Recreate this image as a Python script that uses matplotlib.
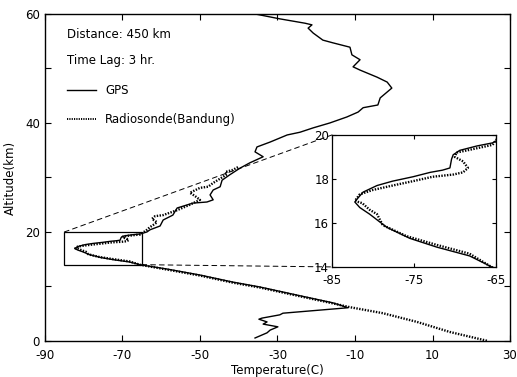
import matplotlib
matplotlib.use("Agg")
import matplotlib.pyplot as plt
from matplotlib.patches import Rectangle, ConnectionPatch

plt.rcParams.update({
    "font.family": "DejaVu Sans",
    "font.size": 8,
    "axes.unicode_minus": False,
})

# ---------------------------------------------------------------- data
# GPS profile (temperature C, altitude km), top to bottom
gps_t = [-35.8, -29.4, -22.9, -21.1, -22.1, -20.8, -18.3, -15.7, -11.3, -10.8,
         -8.7, -10.5, -8.7, -4.3, -1.7, -0.5, -3.5, -4.1, -7.9, -9.2,
         -12.1, -16.5, -20.8, -24.2, -27.5, -31.9, -35.3, -35.8, -33.7, -37.1,
         -39.7, -42.3, -44.3, -44.8, -46.6, -47.4, -46.6, -48.2, -51.8, -55.9,
         -57.0, -59.5, -60.3, -62.9, -63.7,
         -65.4, -67.3, -69.4, -70.2, -70.4, -70.6, -71.5, -73.0, -75.1, -77.6,
         -79.5, -81.2, -81.9, -82.2, -81.6, -80.4, -78.3, -75.5, -72.2, -68.2,
         -65.5, -64.7, -58.5, -50.0, -41.5, -34.5, -24.2, -15.7, -11.8, -28.6,
         -29.4, -34.0, -34.8, -32.7, -33.7, -29.9, -31.9, -32.7, -35.8]
gps_z = [60.0, 59.1, 58.3, 58.0, 57.4, 56.5, 55.2, 54.7, 53.9, 52.5,
         51.6, 50.3, 49.7, 48.4, 47.5, 46.4, 44.6, 43.3, 42.8, 42.0,
         41.1, 40.0, 39.1, 38.3, 37.8, 36.5, 35.6, 34.7, 33.8, 32.7,
         31.7, 30.5, 29.5, 28.3, 27.7, 26.8, 25.9, 25.5, 25.3, 24.4,
         23.1, 22.2, 21.1, 20.4, 20.0,
         19.64, 19.5, 19.3, 19.1, 18.9, 18.5, 18.4, 18.3, 18.1, 17.9,
         17.7, 17.4, 17.1, 16.95, 16.7, 16.4, 15.8, 15.3, 14.9, 14.5,
         14.0, 13.9, 13.2, 12.1, 10.8, 9.9, 8.3, 7.0, 6.1, 5.1,
         4.8, 4.2, 4.0, 3.5, 3.1, 2.6, 2.0, 1.5, 0.55]

# Radiosonde (Bandung) profile
rs_t = [-40.2, -41.5, -43.5, -43.0, -44.1, -46.6, -47.9, -50.0, -52.6, -51.3,
        -50.0, -52.6, -55.9, -59.5, -61.6, -62.4, -61.1, -61.6, -62.9, -63.7,
        -65.4, -68.5, -69.8, -70.0, -69.0, -68.4, -69.0, -70.2, -72.7, -75.1,
        -77.6, -80.0, -81.6, -82.2, -81.3, -80.4, -79.5, -78.8, -75.9, -72.2,
        -68.2, -65.4, -58.5, -50.0, -41.5, -34.5, -24.2, -15.7, -11.3, -2.8,
        6.0, 14.5, 24.3]
rs_z = [31.9, 31.4, 31.0, 30.6, 30.1, 29.0, 28.3, 28.1, 27.2, 26.6,
        25.9, 25.0, 24.0, 23.1, 22.9, 22.4, 21.8, 21.5, 20.9, 20.4,
        19.55, 19.3, 19.2, 19.0, 18.8, 18.5, 18.3, 18.2, 18.1, 17.9,
        17.7, 17.5, 17.3, 17.0, 16.9, 16.6, 16.4, 15.9, 15.4, 15.0,
        14.6, 13.97, 13.1, 12.0, 10.7, 9.8, 8.2, 6.9, 6.2, 5.1,
        3.5, 1.65, 0.0]

x_ticks = [-90, -70, -50, -30, -10, 10, 30]
y_ticks = [0, 10, 20, 30, 40, 50, 60]
y_labels = ["0", "", "20", "", "40", "", "60"]
in_x_ticks = [-85, -75, -65]
in_y_ticks = [14, 16, 18, 20]

# ---------------------------------------------------------------- figure
fig = plt.figure(figsize=(5.17, 3.77), dpi=100)
ax = fig.add_axes([0.087, 0.0955, 0.8995, 0.8675])

ax.plot(gps_t, gps_z, color="black", lw=1.0)
ax.plot(rs_t, rs_z, color="black", lw=1.7, ls=(0, (0.6, 0.6)))
ax.set_xlim(-90, 30)
ax.set_ylim(0, 60)
ax.set_xticks(x_ticks)
ax.set_yticks(y_ticks)
ax.set_yticklabels(y_labels)
ax.tick_params(direction="in", length=4, width=0.8, top=True, right=True,
               labelsize=8.5)
ax.tick_params(axis="x", pad=6)
for s in ax.spines.values():
    s.set_linewidth(1.0)
ax.set_xlabel("Temperature(C)", fontsize=8.5, labelpad=1)
ax.set_ylabel("Altitude(km)", fontsize=8.5, labelpad=6)

# text and legend
ax.text(-84.3, 56.2, "Distance: 450 km", fontsize=8.5, va="center")
ax.text(-84.3, 51.4, "Time Lag: 3 hr.", fontsize=8.5, va="center")
ax.plot([-84.3, -76.8], [46.0, 46.0], color="black", lw=1.0)
ax.text(-74.5, 46.0, "GPS", fontsize=8.5, va="center")
ax.plot([-84.3, -76.8], [40.7, 40.7], color="black", lw=1.4, ls=(0, (0.6, 0.6)))
ax.text(-74.5, 40.7, "Radiosonde(Bandung)", fontsize=8.5, va="center")

# zoom box on main axes
ax.add_patch(Rectangle((-85, 14), 20, 6, fill=False, lw=0.9,
                       edgecolor="black"))

# ---------------------------------------------------------------- inset
ins = fig.add_axes([0.642, 0.292, 0.317, 0.350])
ins.plot(gps_t, gps_z, color="black", lw=1.0)
ins.plot(rs_t, rs_z, color="black", lw=1.7, ls=(0, (0.6, 0.6)))
ins.set_xlim(-85, -65)
ins.set_ylim(14, 20)
ins.set_xticks(in_x_ticks)
ins.set_yticks(in_y_ticks)
ins.tick_params(direction="in", length=3, width=0.8, top=True, right=True,
                labelsize=8.5, pad=2)
ins.tick_params(axis="x", pad=5)
for s in ins.spines.values():
    s.set_linewidth(0.9)

# dashed connectors
for (xa, ya), (xb, yb) in [((-85, 20), (-85, 20)), ((-65, 14), (-85, 14))]:
    con = ConnectionPatch(xyA=(xa, ya), coordsA=ax.transData,
                          xyB=(xb, yb), coordsB=ins.transData,
                          color="black", lw=0.7, ls=(0, (5, 4)))
    fig.add_artist(con)

fig.savefig("out.png", dpi=100, facecolor="white")
